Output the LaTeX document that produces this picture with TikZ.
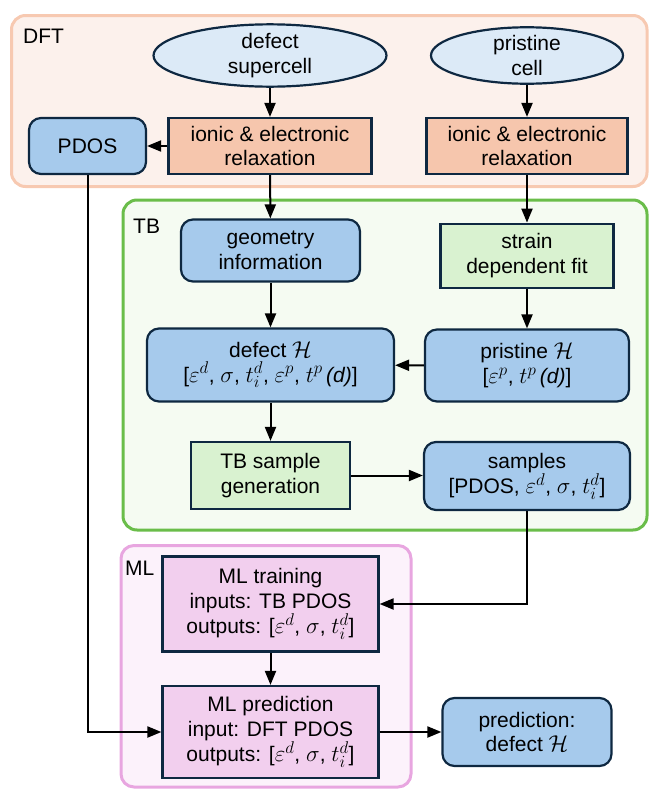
\RequirePackage{fix-cm}
\documentclass[tikz,border=0pt]{standalone}
\usepackage{fontspec}
\setmainfont{Liberation Sans}
\usetikzlibrary{shapes.geometric,arrows.meta}
\DeclareMathSizes{21}{23}{17}{13}
\definecolor{navy}{HTML}{0E2841}
\definecolor{blueF}{HTML}{A6CAEC}
\definecolor{ellF}{HTML}{DCEAF7}
\definecolor{peachF}{HTML}{F6C6AD}
\definecolor{greenF}{HTML}{D9F2D0}
\definecolor{pinkF}{HTML}{F2CFEE}
\definecolor{dftF}{HTML}{FCF1EC}
\definecolor{dftB}{HTML}{F7C9B1}
\definecolor{tbF}{HTML}{F5FBF2}
\definecolor{tbB}{HTML}{6ABD4A}
\definecolor{mlF}{HTML}{FCF2FB}
\definecolor{mlB}{HTML}{E8A6E0}
\tikzset{
  txt/.style={font=\fontsize{21}{24.5}\selectfont},
  nodebox/.style={txt, draw=navy, line width=2.2pt, align=center, inner sep=0pt, text=black},
  bluebox/.style={nodebox, rectangle, rounded corners=12pt, fill=blueF},
  relaxbox/.style={nodebox, rectangle, fill=peachF},
  greenbox/.style={nodebox, rectangle, fill=greenF},
  mlbox/.style={nodebox, rectangle, fill=pinkF},
  ellbox/.style={nodebox, ellipse, fill=ellF},
  sz/.style 2 args={minimum width=#1pt, minimum height=#2pt},
  arr/.style={draw=black, line width=2pt, -{Triangle[length=14pt,width=11pt]}},
  container/.style={line width=3pt, rounded corners=14pt},
  clabel/.style={txt, anchor=base west, inner sep=0pt}
}
\begin{document}
\begin{tikzpicture}[x=1pt,y=-1pt]
\useasboundingbox (0,0) rectangle (649,790);
% containers
\draw[container, draw=dftB, fill=dftF] (11.5,15.5) rectangle (647,186.5);
\draw[container, draw=tbB, fill=tbF] (123,200) rectangle (647,530);
\draw[container, draw=mlB, fill=mlF, rounded corners=13pt] (121,545.5) rectangle (411,787);
\node[clabel] (lDFT) at (23,43) {DFT};
\node[clabel] (lTB) at (133,233) {TB};
\node[clabel] (lML) at (125,575) {ML};
% DFT nodes
\node[ellbox, sz={233}{50}] (ell1) at (270,55.5) {defect\\supercell};
\node[ellbox, sz={192}{50}] (ell2) at (527,55.5) {pristine\\cell};
\node[relaxbox, sz={203}{56}] (relax1) at (270,146) {ionic \& electronic\\relaxation};
\node[relaxbox, sz={201}{56}] (relax2) at (527,146) {ionic \& electronic\\relaxation};
\node[bluebox, sz={117}{56}] (PDOS) at (87.5,146) {PDOS};
% TB nodes
\node[bluebox, sz={179}{62}] (geom) at (270.5,250.5) {geometry\\information};
\node[greenbox, sz={173}{64}] (strain) at (527,255.7) {strain\\dependent fit};
\node[bluebox, sz={247}{73}] (defH) at (270.5,365) {defect $\mathcal{H}$\\{}[$\varepsilon^{d}$, $\sigma$, $t_i^{d}$, $\varepsilon^{p}$, $t^{p}$\,\textit{(d)}]};
\node[bluebox, sz={204}{72}] (priH) at (527,365.5) {pristine $\mathcal{H}$\\{}[$\varepsilon^{p}$, $t^{p}$\,\textit{(d)}]};
\node[greenbox, sz={159}{67}] (tbs) at (270.5,475.5) {TB sample\\generation};
\node[bluebox, sz={206}{68}] (samples) at (527,476) {samples\\{}[PDOS, $\varepsilon^{d}$, $\sigma$, $t_i^{d}$]};
% ML nodes
\node[mlbox, sz={216}{95}] (mltrain) at (270.5,604) {ML training\\inputs: TB PDOS\\outputs: [$\varepsilon^{d}$, $\sigma$, $t_i^{d}$]};
\node[mlbox, sz={216}{92}] (mlpred) at (270.5,732) {ML prediction\\input: DFT PDOS\\outputs: [$\varepsilon^{d}$, $\sigma$, $t_i^{d}$]};
\node[bluebox, sz={169}{68}] (pred) at (527,732) {prediction:\\defect $\mathcal{H}$};
% connectors
\draw[arr] (ell1) -- (relax1);
\draw[arr] (ell2) -- (relax2);
\draw[arr] (relax1) -- (PDOS);
\draw[arr] (relax1) -- (geom);
\draw[arr] (relax2) -- (strain);
\draw[arr] (geom) -- (defH);
\draw[arr] (strain) -- (priH);
\draw[arr] (priH) -- (defH);
\draw[arr] (defH) -- (tbs);
\draw[arr] (tbs.east) -- (tbs.east -| samples.west);
\draw[arr] (samples.south) |- (mltrain.east);
\draw[arr] (mltrain) -- (mlpred);
\draw[arr] (PDOS.south) |- (mlpred.west);
\draw[arr] (mlpred.east) -- (mlpred.east -| pred.west);
\end{tikzpicture}
\end{document}
